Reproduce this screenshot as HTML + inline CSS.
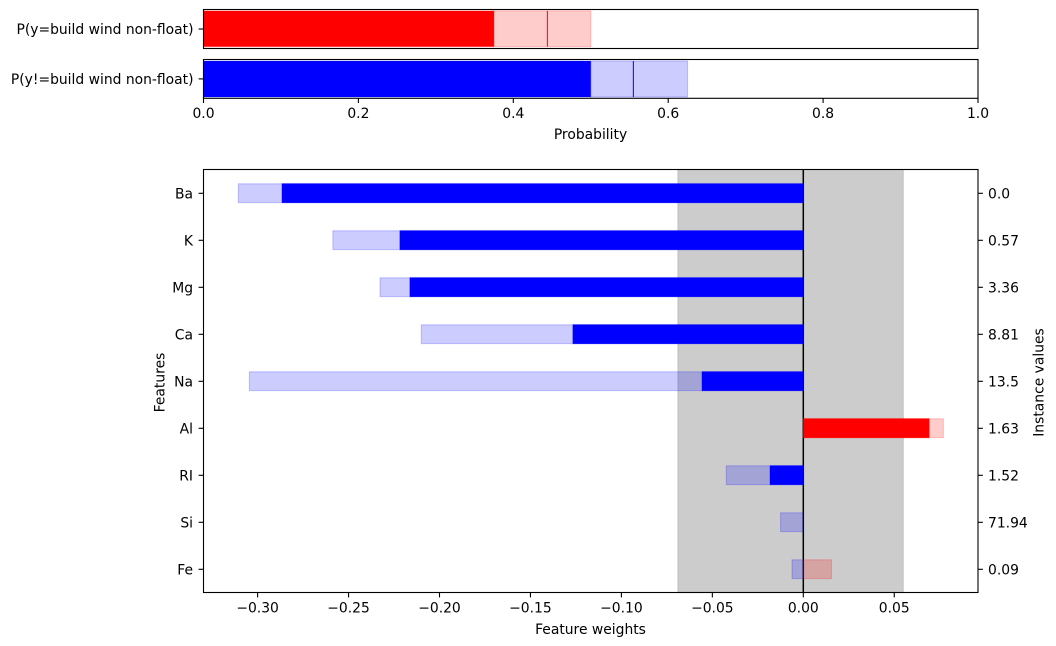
<!DOCTYPE html>
<html>
<head>
<meta charset="utf-8">
<style>
html,body{margin:0;padding:0;background:#fff;width:1056px;height:646px;overflow:hidden}
svg{display:block}
text{font-family:"DejaVu Sans",sans-serif;font-size:13.89px;fill:#000}
</style>
</head>
<body>
<svg id="chart" xmlns="http://www.w3.org/2000/svg" width="1056" height="646" viewBox="0 0 1056 646"></svg>
<script>
// Probability panel data
const probLabels = ["P(y=build wind non-float)", "P(y!=build wind non-float)"];
const probLow = [0.375, 0.5];
const probMid = [0.444, 0.555];
const probHigh = [0.5, 0.625];
const probColors = ["red", "blue"];
const probTicks = [0, 0.2, 0.4, 0.6, 0.8, 1];
const probTickLabels = ["0.0", "0.2", "0.4", "0.6", "0.8", "1.0"];

// Feature weights panel data
const features = ["Ba", "K", "Mg", "Ca", "Na", "Al", "RI", "Si", "Fe"];
const instanceValues = ["0.0", "0.57", "3.36", "8.81", "13.5", "1.63", "1.52", "71.94", "0.09"];
const weightSolidEdge = [-0.2866, -0.2218, -0.2163, -0.1267, -0.0557, 0.0692, -0.0183, 0, 0];
const weightLow = [-0.3106, -0.2586, -0.2327, -0.2100, -0.3045, 0.0692, -0.0423, -0.0125, -0.0062];
const weightHigh = [-0.2866, -0.2218, -0.2163, -0.1267, -0.0557, 0.0770, -0.0183, 0, 0.0155];
const weightTicks = [-0.3, -0.25, -0.2, -0.15, -0.1, -0.05, 0, 0.05];
const weightTickLabels = ["\u22120.30", "\u22120.25", "\u22120.20", "\u22120.15", "\u22120.10", "\u22120.05", "0.00", "0.05"];
const bandLow = -0.069;
const bandHigh = 0.055;

const svg = document.getElementById('chart');
const NS = 'http://www.w3.org/2000/svg';
function mk(tag, attrs, text, parent) {
  const el = document.createElementNS(NS, tag);
  for (const k in attrs) el.setAttribute(k, attrs[k]);
  if (text !== undefined) el.textContent = text;
  (parent || svg).appendChild(el);
  return el;
}
const left = 203.5, right = 978;
const topPanels = [
  {y0: 9.5, y1: 48.5, barTop: 10.9, barBottom: 46.7},
  {y0: 59.5, y1: 98.3, barTop: 61, barBottom: 97}
];
const main = {y0: 169.5, y1: 592.5};

function xProb(v) { return left + v * (right - left); }
function xW(v) { return 803.3 + v * 1819; }
function yRow(i) { return 193.3 + i * 47; }
function colorForWeight(a, b) { return (a + b) / 2 >= 0 ? 'red' : 'blue'; }

function lightRect(x0, x1, y0, y1, color, name) {
  const r = mk('rect', {x: x0, y: y0, width: Math.max(0, x1 - x0), height: y1 - y0, fill: color, 'fill-opacity': 0.2, stroke: color, 'stroke-opacity': 0.2, 'stroke-width': 1.1});
  
  
  return r;
}
function solidRect(x0, x1, y0, y1, color, name) {
  const r = mk('rect', {x: x0, y: y0, width: Math.max(0, x1 - x0), height: y1 - y0, fill: color, stroke: color, 'stroke-opacity': 0.2, 'stroke-width': 1.1});
  
  
  return r;
}

// Top probability panels
probLabels.forEach(function (label, i) {
  const p = topPanels[i];
  const solid = solidRect(xProb(0), xProb(probLow[i]), p.barTop, p.barBottom, probColors[i], 'probability-bar-' + probColors[i]);
  const light = lightRect(xProb(probLow[i]), xProb(probHigh[i]), p.barTop, p.barBottom, probColors[i], 'probability-interval-' + probColors[i]);
  const mid = mk('line', {x1: xProb(probMid[i]), x2: xProb(probMid[i]), y1: p.barTop, y2: p.barBottom, stroke: probColors[i], 'stroke-width': 1});
  
  
  const frame = mk('rect', {x: left, y: p.y0, width: right - left, height: p.y1 - p.y0, fill: 'none', stroke: '#000', 'stroke-width': 1.1});
  
  
  const yMid = (p.y0 + p.y1) / 2;
  const tick = mk('line', {x1: left - 4.9, x2: left, y1: yMid, y2: yMid, stroke: '#000', 'stroke-width': 1.1});
  
  
  const t = mk('text', {x: 193.5, y: yMid + 5, 'text-anchor': 'end'}, label);
  
  
});
probTicks.forEach(function (v, i) {
  const x = xProb(v);
  const tick = mk('line', {x1: x, x2: x, y1: 98.3, y2: 103, stroke: '#000', 'stroke-width': 1.1});
  
  
  const t = mk('text', {x: x, y: 118, 'text-anchor': 'middle'}, probTickLabels[i]);
  
  
});
const probTitle = mk('text', {x: 590.5, y: 139, 'text-anchor': 'middle'}, 'Probability');



// Main panel: uncertainty band
const band = mk('rect', {x: xW(bandLow), y: main.y0, width: xW(bandHigh) - xW(bandLow), height: main.y1 - main.y0, fill: '#000', 'fill-opacity': 0.2, stroke: '#000', 'stroke-opacity': 0.12, 'stroke-width': 1.1});



// Zero line
const zero = mk('line', {x1: xW(0), x2: xW(0), y1: main.y0, y2: main.y1, stroke: '#000', 'stroke-width': 1.5});



// Feature bars
const barHalf = 9.4;
const solidHalf = 9.7;
const barShift = -0.1;
features.forEach(function (f, i) {
  const y = yRow(i) + barShift;
  const y0 = y - barHalf, y1 = y + barHalf;
  const e = weightSolidEdge[i];
  const lo = weightLow[i], hi = weightHigh[i];
  const crosses = lo < 0 && hi > 0;
  if (crosses) {
    lightRect(xW(lo), xW(0), y0, y1, 'blue', 'weight-interval-' + f + '-negative');
    lightRect(xW(0), xW(hi), y0, y1, 'red', 'weight-interval-' + f + '-positive');
  } else {
    const c = colorForWeight(lo, hi);
    const x0 = Math.min(0, e), x1 = Math.max(0, e);
    solidRect(xW(x0), xW(x1), y - solidHalf, y + solidHalf, c, 'weight-bar-' + f);
    lightRect(xW(lo), xW(hi), y0, y1, c, 'weight-interval-' + f);
  }
});

// Main frame
const mainFrame = mk('rect', {x: left, y: main.y0, width: right - left, height: main.y1 - main.y0, fill: 'none', stroke: '#000', 'stroke-width': 1.1});



// Main ticks
weightTicks.forEach(function (v, i) {
  const x = xW(v);
  const tick = mk('line', {x1: x, x2: x, y1: main.y1, y2: main.y1 + 4.9, stroke: '#000', 'stroke-width': 1.1});
  
  
  const t = mk('text', {x: x, y: 612.5, 'text-anchor': 'middle'}, weightTickLabels[i]);
  
  
});
features.forEach(function (f, i) {
  const y = yRow(i);
  const tl = mk('line', {x1: left - 4.9, x2: left, y1: y, y2: y, stroke: '#000', 'stroke-width': 1.1});
  
  
  const t = mk('text', {x: 193, y: y + 5, 'text-anchor': 'end'}, f);
  
  
  const tr = mk('line', {x1: right, x2: right + 4.9, y1: y, y2: y, stroke: '#000', 'stroke-width': 1.1});
  
  
  const v = mk('text', {x: 988, y: y + 5, 'text-anchor': 'start'}, instanceValues[i]);
  
  
});

// Axis titles
const xTitle = mk('text', {x: 590.5, y: 634, 'text-anchor': 'middle'}, 'Feature weights');


const yTitle = mk('text', {x: 0, y: 0, 'text-anchor': 'middle', transform: 'translate(164.5 382.5) rotate(-90)'}, 'Features');


const rTitle = mk('text', {x: 0, y: 0, 'text-anchor': 'middle', transform: 'translate(1043.5 382.5) rotate(-90)'}, 'Instance values');


</script>
</body>
</html>
